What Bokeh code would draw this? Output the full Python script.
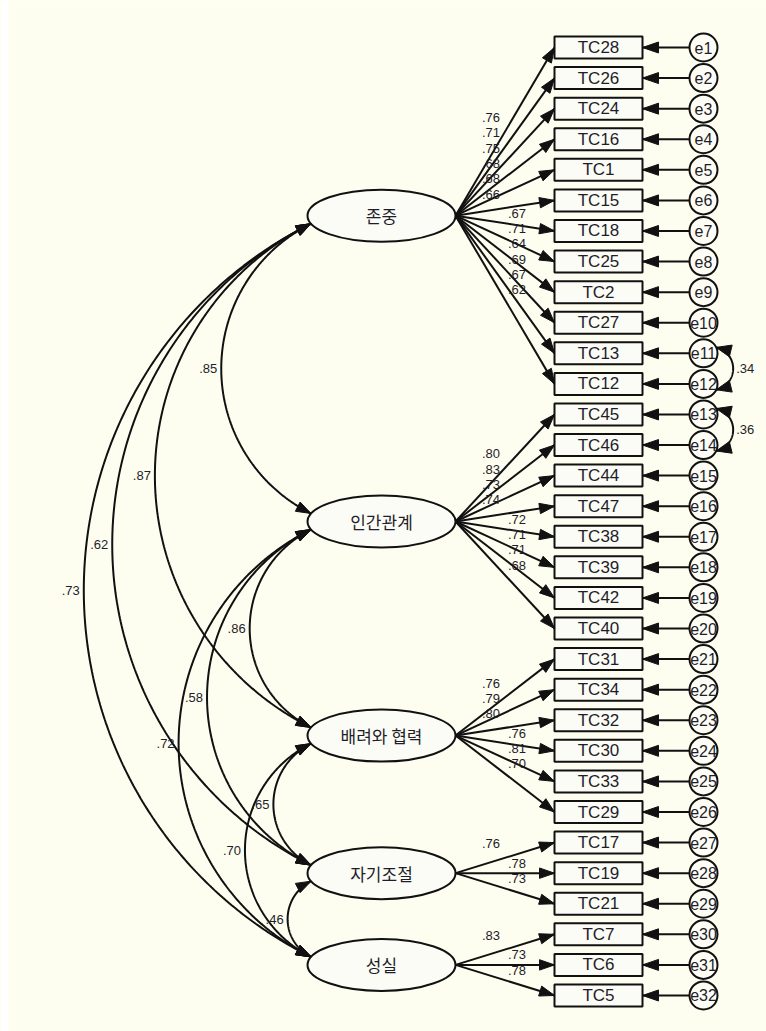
import numpy as np
from bokeh.plotting import figure
from bokeh.models import Range1d, BoxAnnotation
from bokeh.embed import file_html
from bokeh.resources import INLINE
from bokeh.core.properties import value

# ---------------- data ----------------
factors = ["존중", "인간관계", "배려와 협력", "자기조절", "성실"]
items_f1 = ["TC28", "TC26", "TC24", "TC16", "TC1", "TC15", "TC18", "TC25", "TC2", "TC27", "TC13", "TC12"]
loads_f1 = [.76, .71, .75, .68, .68, .66, .67, .71, .64, .69, .67, .62]
items_f2 = ["TC45", "TC46", "TC44", "TC47", "TC38", "TC39", "TC42", "TC40"]
loads_f2 = [.80, .83, .73, .74, .72, .71, .71, .68]
items_f3 = ["TC31", "TC34", "TC32", "TC30", "TC33", "TC29"]
loads_f3 = [.76, .79, .80, .76, .81, .70]
items_f4 = ["TC17", "TC19", "TC21"]
loads_f4 = [.76, .78, .73]
items_f5 = ["TC7", "TC6", "TC5"]
loads_f5 = [.83, .73, .78]
factor_corr_from = [0, 0, 0, 0, 1, 1, 1, 2, 2, 3]
factor_corr_to = [1, 2, 3, 4, 2, 3, 4, 3, 4, 4]
factor_corr_val = [.85, .87, .62, .73, .86, .58, .72, .65, .70, .46]
err_corr_from = [11, 13]   # e11, e13
err_corr_to = [12, 14]     # e12, e14
err_corr_val = [.34, .36]

groups_items = [items_f1, items_f2, items_f3, items_f4, items_f5]
groups_loads = [loads_f1, loads_f2, loads_f3, loads_f4, loads_f5]

# ---------------- layout ----------------
W, H = 766, 1031
Y0, DY = 47.0, 30.58
BOX_X0, BOX_X1, BOX_H = 554.0, 642.0, 22.0
ERR_X, ERR_R = 703.0, 14.0
LAT_CX, LAT_RX, LAT_RY = 381.0, 74.0, 26.0
BG = "#FDFDF0"
INK = "#111111"
TXT = "#1e1e2a"
FONT = value("Liberation Sans")

def fmt(v):
    return ("%.2f" % v).lstrip("0")

p = figure(width=W, height=H, x_range=Range1d(0, W), y_range=Range1d(H, 0),
           output_backend="svg", toolbar_location=None, min_border=0,
           x_axis_type=None, y_axis_type=None)
p.grid.visible = False
p.outline_line_color = None
p.background_fill_color = BG
p.border_fill_color = BG
p.add_layout(BoxAnnotation(left=0, right=8, fill_color="white", fill_alpha=1.0,
                           line_color=None, level="underlay"))

# positions
item_names, item_y, item_load, item_factor = [], [], [], []
k = 0
for gi, (its, lds) in enumerate(zip(groups_items, groups_loads)):
    for nm, ld in zip(its, lds):
        item_names.append(nm)
        item_y.append(Y0 + k * DY)
        item_load.append(ld)
        item_factor.append(gi)
        k += 1
item_y = np.array(item_y)
lat_y = [float(np.mean(item_y[np.array(item_factor) == g])) for g in range(len(factors))]

heads_x, heads_y = [], []

def head(tip, frm, length=15.0, hw=5.2):
    tip = np.asarray(tip, float); frm = np.asarray(frm, float)
    u = tip - frm
    u = u / np.hypot(*u)
    base = tip - u * length
    perp = np.array([-u[1], u[0]])
    a = base + perp * hw
    b = base - perp * hw
    heads_x.append([tip[0], a[0], b[0]])
    heads_y.append([tip[1], a[1], b[1]])

def arc(p1, p2, ratio, side):
    p1 = np.asarray(p1, float); p2 = np.asarray(p2, float)
    d = p2 - p1
    L = np.hypot(*d)
    d = d / L
    n = np.array([-d[1], d[0]]) if side < 0 else np.array([d[1], -d[0]])
    s = ratio * L
    R = (L * L / 4 + s * s) / (2 * s)
    M = (p1 + p2) / 2
    C = M - n * (R - s)
    ab = np.arctan2(n[1], n[0])
    def rel(pt):
        a = np.arctan2(pt[1] - C[1], pt[0] - C[0])
        return ab + ((a - ab + np.pi) % (2 * np.pi)) - np.pi
    t = np.linspace(rel(p1), rel(p2), 240)
    xs = C[0] + R * np.cos(t)
    ys = C[1] + R * np.sin(t)
    return xs, ys, M + n * s

# loading paths
lx, ly = [], []
lab_x, lab_y, lab_t = [], [], []
for nm, y, ld, g in zip(item_names, item_y, item_load, item_factor):
    sx, sy = LAT_CX + LAT_RX, lat_y[g]
    lx.append([sx, BOX_X0]); ly.append([sy, y])
    head((BOX_X0, y), (sx, sy))
    mx, my = (sx + BOX_X0) / 2, (sy + y) / 2
    if y < sy - 8:
        lab_x.append(mx - 14); lab_y.append(my - 14)
    else:
        lab_x.append(mx + 12); lab_y.append(my - 10)
    lab_t.append(fmt(ld))
p.multi_line(lx, ly, line_color=INK, line_width=2)

# error paths
ex, ey = [], []
for y in item_y:
    ex.append([ERR_X - ERR_R, BOX_X1]); ey.append([y, y])
    head((BOX_X1, y), (ERR_X - ERR_R, y), length=16, hw=5.5)
p.multi_line(ex, ey, line_color=INK, line_width=2)

# factor covariances
edge_dx = LAT_RX * np.sqrt(1 - (8.0 / LAT_RY) ** 2)
ax_, ay_ = [], []
cl_x, cl_y, cl_t = [], [], []
for a, b, v in zip(factor_corr_from, factor_corr_to, factor_corr_val):
    p1 = (LAT_CX - edge_dx, lat_y[a] + 8)
    p2 = (LAT_CX - edge_dx, lat_y[b] - 8)
    xs, ys, bl = arc(p1, p2, 0.31, -1)
    ax_.append(list(xs)); ay_.append(list(ys))
    head((xs[0], ys[0]), (xs[3], ys[3]))
    head((xs[-1], ys[-1]), (xs[-4], ys[-4]))
    cl_x.append(bl[0] - 4); cl_y.append(bl[1]); cl_t.append(fmt(v))
p.multi_line(ax_, ay_, line_color=INK, line_width=2)

# error covariances
bx_, by_ = [], []
el_x, el_y, el_t = [], [], []
ang = np.deg2rad(25)
for a, b, v in zip(err_corr_from, err_corr_to, err_corr_val):
    ya, yb = item_y[a - 1], item_y[b - 1]
    p1 = (ERR_X + ERR_R * np.cos(ang), ya - ERR_R * np.sin(ang))
    p2 = (ERR_X + ERR_R * np.cos(ang), yb + ERR_R * np.sin(ang))
    xs, ys, bl = arc(p1, p2, 0.4, 1)
    bx_.append(list(xs)); by_.append(list(ys))
    head((xs[0], ys[0]), (xs[3], ys[3]), length=15, hw=6)
    head((xs[-1], ys[-1]), (xs[-4], ys[-4]), length=15, hw=6)
    el_x.append(bl[0] + 3); el_y.append(bl[1]); el_t.append(fmt(v))
p.multi_line(bx_, by_, line_color=INK, line_width=2)

# shapes
p.rect(x=[(BOX_X0 + BOX_X1) / 2] * len(item_y), y=list(item_y), width=BOX_X1 - BOX_X0,
       height=BOX_H, fill_color="#FCFCF7", line_color=INK, line_width=2)
p.circle(x=[ERR_X] * len(item_y), y=list(item_y), radius=ERR_R,
         fill_color="#FDFDF6", line_color=INK, line_width=2)
p.ellipse(x=[LAT_CX] * len(factors), y=lat_y, width=2 * LAT_RX, height=2 * LAT_RY,
          fill_color="#FCFCF6", line_color=INK, line_width=2)

p.patches(heads_x, heads_y, fill_color=INK, line_color=INK, line_width=1)

# texts
p.text(x=[(BOX_X0 + BOX_X1) / 2] * len(item_y), y=list(item_y), text=item_names,
       text_font=FONT, text_font_size="17px", text_color=TXT,
       text_align="center", text_baseline="middle")
p.text(x=[ERR_X] * len(item_y), y=list(item_y), text=["e%d" % (i + 1) for i in range(len(item_y))],
       text_font=FONT, text_font_size="16px", text_color=TXT,
       text_align="center", text_baseline="middle")
p.text(x=[LAT_CX] * len(factors), y=lat_y, text=factors,
       text_font=value("Noto Sans CJK KR"), text_font_size="17px", text_color=TXT,
       text_align="center", text_baseline="middle")
p.text(x=lab_x, y=lab_y, text=lab_t, text_font=FONT, text_font_size="13px",
       text_color=TXT, text_align="center", text_baseline="middle")
p.text(x=cl_x, y=cl_y, text=cl_t, text_font=FONT, text_font_size="13px",
       text_color=TXT, text_align="right", text_baseline="middle")
p.text(x=el_x, y=el_y, text=el_t, text_font=FONT, text_font_size="13px",
       text_color=TXT, text_align="left", text_baseline="middle")

open("out.html", "w").write(file_html(p, INLINE))
